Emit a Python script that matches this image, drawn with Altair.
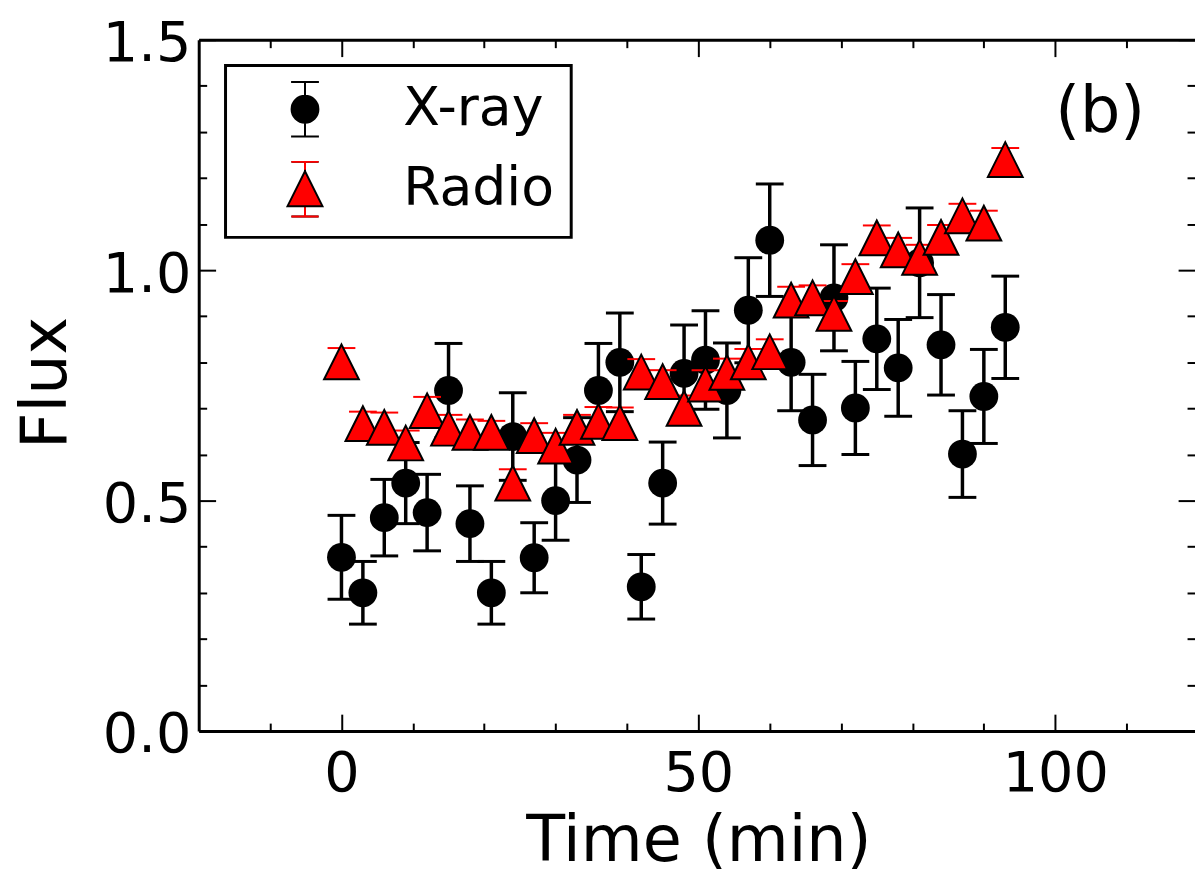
import altair as alt
import pandas as pd

# ---------------- data ----------------
times = [0, 3, 6, 9, 12, 15, 18, 21, 24, 27, 30, 33, 36, 39, 42, 45,
         48, 51, 54, 57, 60, 63, 66, 69, 72, 75, 78, 81, 84, 87, 90, 93]
xray_flux = [0.377, 0.300, 0.463, 0.538, 0.474, 0.739, 0.450, 0.300,
             0.639, 0.376, 0.500, 0.588, 0.739, 0.800, 0.313, 0.538,
             0.776, 0.805, 0.739, 0.913, 1.065, 0.800, 0.675, 0.940,
             0.701, 0.851, 0.788, 1.016, 0.838, 0.601, 0.726, 0.876]
xray_err = [0.091, 0.068, 0.083, 0.088, 0.083, 0.102, 0.082, 0.068,
            0.095, 0.076, 0.086, 0.092, 0.102, 0.107, 0.070, 0.089,
            0.105, 0.107, 0.103, 0.114, 0.122, 0.105, 0.099, 0.115,
            0.101, 0.110, 0.105, 0.119, 0.109, 0.094, 0.102, 0.111]
radio_flux = [0.801, 0.667, 0.659, 0.625, 0.695, 0.657, 0.648, 0.648,
              0.538, 0.641, 0.618, 0.659, 0.672, 0.669, 0.779, 0.758,
              0.700, 0.753, 0.778, 0.801, 0.823, 0.935, 0.940, 0.906,
              0.986, 1.070, 1.044, 1.028, 1.071, 1.118, 1.102, 1.240]
radio_err = [0.030, 0.026, 0.032, 0.027, 0.030, 0.029, 0.028, 0.025,
             0.030, 0.027, 0.029, 0.027, 0.031, 0.033, 0.028, 0.025,
             0.028, 0.030, 0.030, 0.028, 0.027, 0.029, 0.027, 0.027,
             0.027, 0.027, 0.026, 0.027, 0.027, 0.026, 0.027, 0.025]
series_names = ["X-ray", "Radio"]
bar_keys = ["X-ray bar", "Radio bar"]
x_major = [0, 50, 100]
x_minor = [-10, 10, 20, 30, 40, 60, 70, 80, 90, 110]
y_major = [0.0, 0.5, 1.0, 1.5]
y_minor = [0.1, 0.2, 0.3, 0.4, 0.6, 0.7, 0.8, 0.9, 1.1, 1.2, 1.3, 1.4]
panel_text = ["(b)"]
panel_x = [100]
panel_y = [1.3]

FONT = "DejaVu Sans"

xray = pd.DataFrame({"t": times, "f": xray_flux, "e": xray_err})
xray["lo"] = xray["f"] - xray["e"]
xray["hi"] = xray["f"] + xray["e"]
radio = pd.DataFrame({"t": times, "f": radio_flux, "e": radio_err})
radio["lo"] = radio["f"] - radio["e"]
radio["hi"] = radio["f"] + radio["e"]
panel = pd.DataFrame({"t": panel_x, "f": panel_y, "label": panel_text})
legend_df = pd.DataFrame({"series": series_names})
bar_df = pd.DataFrame({"key": bar_keys})

xs = alt.Scale(domain=[-20, 120], range=[0, 1006], nice=False, zero=False)
ys = alt.Scale(domain=[0, 1.5], nice=False, zero=False)


def tick_axis(orient, values, length):
    return alt.Axis(orient=orient, values=values, offset=-length, tickSize=length,
                    ticks=True, tickWidth=2, tickColor="black", labels=False,
                    domain=False, grid=False, title=None)


def frame_axis(orient):
    return alt.Axis(orient=orient, values=[], domain=True, domainColor="black",
                    domainWidth=3, ticks=False, tickSize=0, labels=False,
                    grid=False, title=None)


x_label_axis = alt.Axis(orient="bottom", values=x_major, format="d", domain=True,
                        domainColor="black", domainWidth=3, ticks=False, tickSize=0,
                        labels=True, labelFont=FONT, labelFontSize=56,
                        labelColor="black", labelPadding=16, labelFlush=False,
                        labelOverlap=False, grid=False,
                        title="Time (min)", titleFont=FONT, titleFontSize=64,
                        titleFontWeight="normal", titleColor="black",
                        titleY=130, titleBaseline="alphabetic")
y_label_axis = alt.Axis(orient="left", values=y_major, format=".1f", domain=True,
                        domainColor="black", domainWidth=3, ticks=False, tickSize=0,
                        labels=True, labelFont=FONT, labelFontSize=56,
                        labelColor="black", labelPadding=8, labelOffset=4,
                        labelFlush=False, labelOverlap=False, grid=False,
                        title="Flux", titleFont=FONT, titleFontSize=64,
                        titleFontWeight="normal", titleColor="black",
                        titleX=-134, titleY=345, titleAngle=270,
                        titleAlign="center", titleBaseline="alphabetic")

# legend glyphs, in the unit box of the symbol
xray_glyph = ("M-0.73,0A0.73,0.73,0,1,1,0.73,0A0.73,0.73,0,1,1,-0.73,0Z"
              "M0,-1.486L0,1.486M-0.757,-1.486L0.757,-1.486"
              "M-0.757,1.486L0.757,1.486")
radio_glyph = ("M0,-0.95L-0.95,0.95L0.95,0.95Z"
               "M0,-1.46L0,-0.95M0,0.95L0,1.51"
               "M-0.74,-1.46L0.74,-1.46M-0.74,1.51L0.74,1.51")
red_bar_glyph = ("M-0.95,0M0.95,0"
                 "M0,-1.46L0,-1.03M0,1.01L0,1.51"
                 "M-0.74,-1.46L0.74,-1.46M-0.74,1.51L0.74,1.51")
tri = "M0,-1L-1,1L1,1Z"

LEG_COMMON = dict(title=None, orient="none", legendX=27, legendY=26, padding=17,
                  symbolSize=1369, symbolStrokeWidth=2, symbolOffset=36,
                  labelOffset=72, rowPadding=16, labelFont=FONT, labelFontSize=54,
                  labelLimit=500, direction="vertical", symbolOpacity=1)

leg_main = alt.Legend(strokeColor="black", labelColor="black", zindex=0, **LEG_COMMON)
leg_bars = alt.Legend(strokeColor="transparent", labelColor="transparent",
                      labelExpr="''", symbolType=red_bar_glyph,
                      symbolFillColor="transparent", zindex=1, **LEG_COMMON)

xray_rule = alt.Chart(xray).mark_rule(color="black", strokeWidth=3.5).encode(
    x=alt.X("t:Q", scale=xs, axis=x_label_axis),
    y=alt.Y("lo:Q", scale=ys, axis=y_label_axis),
    y2="hi:Q",
)
xray_caps = alt.Chart(xray).transform_fold(["lo", "hi"], as_=["k", "v"]).mark_tick(
    orient="horizontal", size=28, thickness=3, color="black", opacity=1
).encode(
    x=alt.X("t:Q", scale=xs, axis=tick_axis("bottom", x_major, 17)),
    y=alt.Y("v:Q", scale=ys, axis=tick_axis("left", y_major, 17)),
)
xray_pts = alt.Chart(xray).mark_point(
    shape="circle", filled=True, color="black", size=841, opacity=1, strokeWidth=0
).encode(
    x=alt.X("t:Q", scale=xs, axis=tick_axis("bottom", x_minor, 8)),
    y=alt.Y("f:Q", scale=ys, axis=tick_axis("left", y_minor, 8)),
)
radio_rule = alt.Chart(radio).mark_rule(color="red", strokeWidth=2).encode(
    x=alt.X("t:Q", scale=xs, axis=frame_axis("top")),
    y=alt.Y("lo:Q", scale=ys, axis=tick_axis("right", y_major, 17)),
    y2="hi:Q",
)
radio_caps = alt.Chart(radio).transform_fold(["lo", "hi"], as_=["k", "v"]).mark_tick(
    orient="horizontal", size=28, thickness=2, color="red", opacity=1
).encode(
    x=alt.X("t:Q", scale=xs, axis=tick_axis("top", x_major, 17)),
    y=alt.Y("v:Q", scale=ys, axis=tick_axis("right", y_minor, 8)),
)
radio_pts = alt.Chart(radio).mark_point(
    shape=tri, filled=True, fill="red", stroke="black", strokeWidth=2,
    size=1225, opacity=1
).encode(
    x=alt.X("t:Q", scale=xs, axis=tick_axis("top", x_minor, 8)),
    y=alt.Y("f:Q", scale=ys, axis=None),
)
panel_txt = alt.Chart(panel).mark_text(
    align="left", baseline="alphabetic", font=FONT, fontSize=64, color="black"
).encode(
    x=alt.X("t:Q", scale=xs, axis=None),
    y=alt.Y("f:Q", scale=ys, axis=None),
    text="label:N",
)
carrier = alt.Chart(legend_df).transform_filter("false").mark_point(
    filled=True, strokeWidth=2, size=1369, opacity=1
).encode(
    fill=alt.Fill("series:N", scale=alt.Scale(domain=series_names, range=["black", "red"]), legend=leg_main),
    shape=alt.Shape("series:N", scale=alt.Scale(domain=series_names, range=[xray_glyph, radio_glyph]), legend=leg_main),
    stroke=alt.Stroke("series:N", scale=alt.Scale(domain=series_names, range=["black", "black"]), legend=leg_main),
)
bar_carrier = alt.Chart(bar_df).transform_filter("false").mark_point(
    filled=False, strokeWidth=2, size=1369, opacity=1
).encode(
    strokeDash=alt.StrokeDash("key:N", scale=alt.Scale(domain=bar_keys, range=[[1, 0], [1, 0]]), legend=None),
    color=alt.Color("key:N", scale=alt.Scale(domain=bar_keys, range=["transparent", "red"]), legend=leg_bars),
)

chart = alt.layer(
    xray_rule, xray_caps, xray_pts, radio_rule, radio_caps, radio_pts, panel_txt,
    carrier, bar_carrier
).resolve_axis(
    x="independent", y="independent"
).properties(
    width=1003, height=696,
    autosize=alt.AutoSizeParams(type="none"),
    padding={"left": 192, "top": 29, "right": 0, "bottom": 143},
    background="white",
).configure_view(
    stroke=None
).configure_legend(
    strokeColor="black", strokeWidth=3
)

chart.save("out.html", embed_options={"renderer": "svg", "actions": False})
